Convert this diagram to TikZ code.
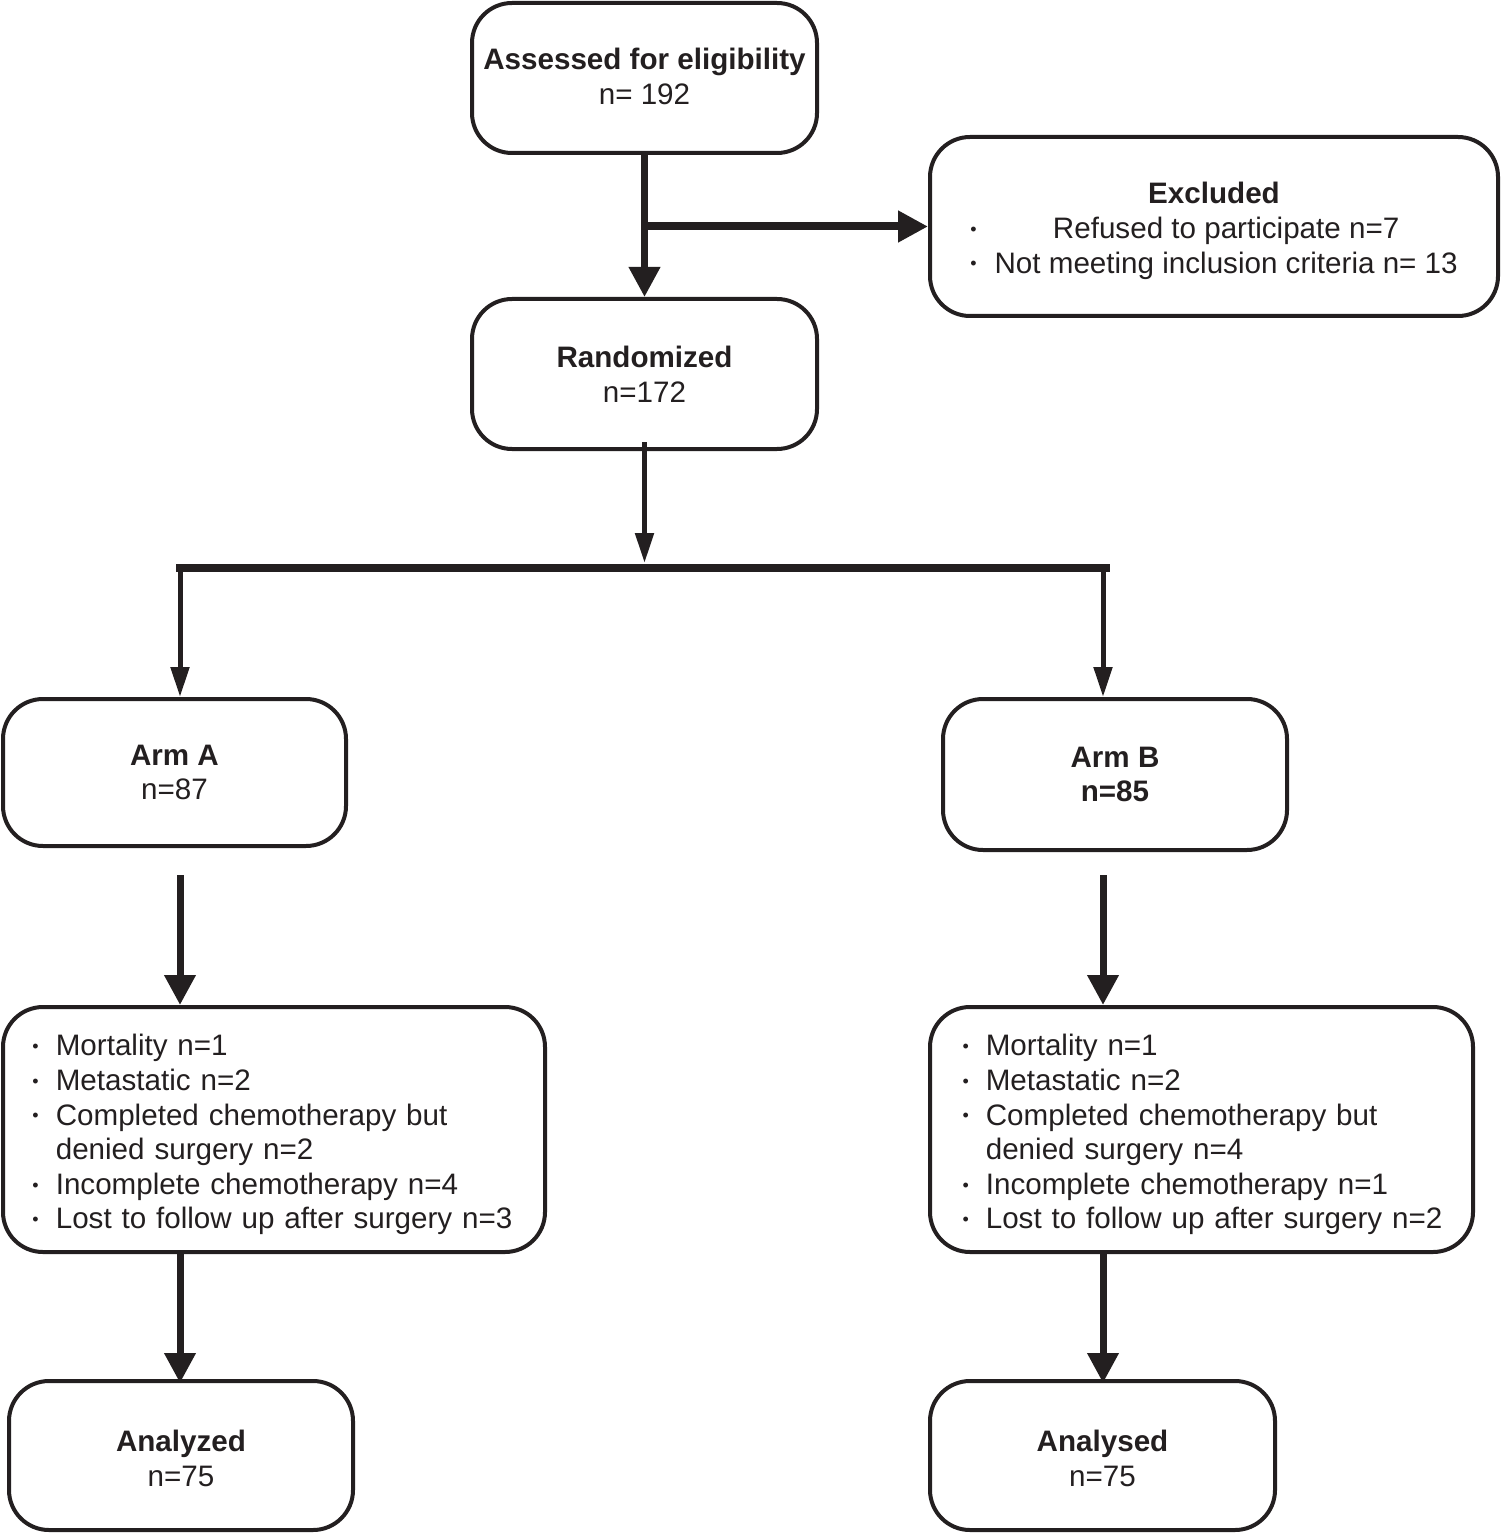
\documentclass[tikz,border=0pt]{standalone}
\usepackage{fontspec}
\setmainfont{Liberation Sans}
\usetikzlibrary{arrows.meta,calc}
\definecolor{ink}{HTML}{231F20}
\newcommand{\mybul}{\raisebox{1.6pt}{\fontsize{9pt}{9pt}\selectfont •}}
\newcommand{\mylower}[2]{\raisebox{-#1}[\height][\depth]{#2}}
\begin{document}
\begin{tikzpicture}[x=0.5pt,y=-0.5pt,
  box/.style={draw=ink, line width=2pt, rounded corners=20pt, align=center,
    inner sep=0pt, text=ink, font=\fontsize{14.8pt}{17.3pt}\selectfont},
  listbox/.style={box, align=left, minimum height=122.5pt},
  bigarrow/.style={draw=ink, line width=3.5pt, -{Triangle[width=15pt,length=15pt]}},
  thinarrow/.style={draw=ink, line width=2.5pt, -{Triangle[width=9pt,length=15pt]}},
  barline/.style={draw=ink, line width=4pt}]
\useasboundingbox (0,0) rectangle (1500,1534);

\node[box, minimum width=172.5pt, minimum height=75pt] (assess) at (644.5,78)
  {\mylower{1pt}{\begin{tabular}{@{}c@{}}\textbf{Assessed for eligibility}\\n= 192\end{tabular}}};
\node[box, minimum width=284pt, minimum height=89.5pt] (excl) at (1214,226.5)
  {\mylower{2.5pt}{\begin{tabular}{@{}l@{\hspace{9pt}}c@{}}
   \multicolumn{2}{c}{\textbf{Excluded}}\\
   \mybul & Refused to participate n=7\\
   \mybul & Not meeting inclusion criteria n= 13
   \end{tabular}}};
\node[box, minimum width=172.5pt, minimum height=75pt] (rand) at (644.5,374)
  {\textbf{Randomized}\\n=172};
\node[box, minimum width=171.5pt, minimum height=73.5pt] (armA) at (174.5,772.5)
  {\textbf{Arm A}\\n=87};
\node[box, minimum width=172pt, minimum height=75.5pt] (armB) at (1115,774.5)
  {\textbf{Arm B}\\\textbf{n=85}};
\node[listbox, minimum width=271pt, inner xsep=14.75pt, text width=241.5pt] (listA) at (274,1129.5)
  {\mylower{3pt}{\begin{tabular}{@{}l@{\hspace{8.5pt}}l@{}}
   \mybul & Mortality n=1\\
   \mybul & Metastatic n=2\\
   \mybul & Completed chemotherapy but\\
          & denied surgery n=2\\
   \mybul & Incomplete chemotherapy n=4\\
   \mybul & Lost to follow up after surgery n=3
   \end{tabular}}};
\node[listbox, minimum width=271.5pt, inner xsep=16.25pt, text width=239pt] (listB) at (1201.5,1129.5)
  {\mylower{3pt}{\begin{tabular}{@{}l@{\hspace{8.5pt}}l@{}}
   \mybul & Mortality n=1\\
   \mybul & Metastatic n=2\\
   \mybul & Completed chemotherapy but\\
          & denied surgery n=4\\
   \mybul & Incomplete chemotherapy n=1\\
   \mybul & Lost to follow up after surgery n=2
   \end{tabular}}};
\node[box, minimum width=172pt, minimum height=74.5pt] (anA) at (181,1455.5)
  {\mylower{3.2pt}{\begin{tabular}{@{}c@{}}\textbf{Analyzed}\\n=75\end{tabular}}};
\node[box, minimum width=172.5pt, minimum height=74.5pt] (anB) at (1102.5,1455.5)
  {\mylower{3.2pt}{\begin{tabular}{@{}c@{}}\textbf{Analysed}\\n=75\end{tabular}}};

\coordinate (branch) at (644.5,226.5);
\coordinate (barmid) at (644.5,568);
\coordinate (barL) at (180,568);
\coordinate (barR) at (1103,568);

% connectors
\draw[bigarrow] (assess.south) -- (rand.north);
\draw[bigarrow, line width=4pt] (branch) -- (excl.west);
\draw[thinarrow] ($(rand.south)+(0,-9)$) -- ($(barmid)+(0,-5)$);
\draw[barline] ($(barL)+(-4,0)$) -- ($(barR)+(7,0)$);
\draw[thinarrow] (barL) -- (barL |- armA.north);
\draw[thinarrow] (barR) -- (barR |- armB.north);
\draw[bigarrow] ($(barL |- armA.south)+(0,27)$) -- (barL |- listA.north);
\draw[bigarrow] ($(barR |- armB.south)+(0,23)$) -- (barR |- listB.north);
\draw[bigarrow] (barL |- listA.south) -- ($(barL |- anA.north)+(0,4)$);
\draw[bigarrow] (barR |- listB.south) -- ($(barR |- anB.north)+(0,4)$);
\end{tikzpicture}
\end{document}
